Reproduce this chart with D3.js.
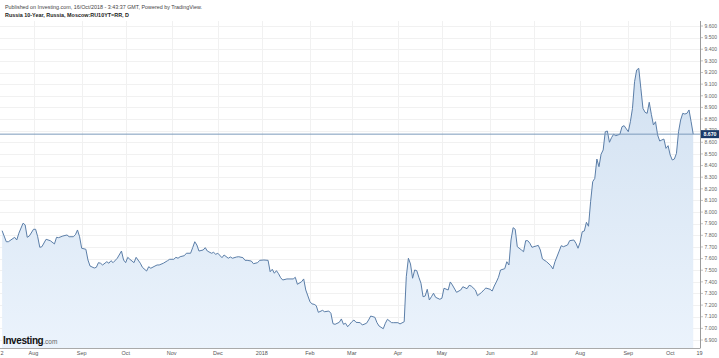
<!DOCTYPE html>
<html><head><meta charset="utf-8">
<script src="https://cdn.jsdelivr.net/npm/d3@7"></script>
<style>html,body{margin:0;padding:0;background:#fff;overflow:hidden}svg{display:block;font-family:"Liberation Sans",Arial,sans-serif}</style>
</head><body>
<script>
const dates = ["2017-07-11","2017-07-13","2017-07-14","2017-07-19","2017-07-20","2017-07-21","2017-07-25","2017-07-26","2017-07-27","2017-07-28",
"2017-08-01","2017-08-02","2017-08-03","2017-08-04","2017-08-07","2017-08-09","2017-08-11","2017-08-15","2017-08-16","2017-08-17",
"2017-08-21","2017-08-23","2017-08-24","2017-08-28","2017-08-29","2017-08-30","2017-08-31","2017-09-01","2017-09-05","2017-09-06",
"2017-09-07","2017-09-11","2017-09-12","2017-09-13","2017-09-14","2017-09-15","2017-09-19","2017-09-20","2017-09-21","2017-09-22",
"2017-09-26","2017-09-28","2017-09-29","2017-10-02","2017-10-03","2017-10-04","2017-10-06","2017-10-09","2017-10-11","2017-10-12",
"2017-10-16","2017-10-17","2017-10-18","2017-10-20","2017-10-23","2017-10-24","2017-10-26","2017-10-30","2017-10-31","2017-11-02",
"2017-11-03","2017-11-06","2017-11-07","2017-11-09","2017-11-10","2017-11-14","2017-11-15","2017-11-16","2017-11-17","2017-11-20",
"2017-11-22","2017-11-23","2017-11-24","2017-11-28","2017-11-29","2017-11-30","2017-12-01","2017-12-05","2017-12-06","2017-12-08",
"2017-12-11","2017-12-12","2017-12-14","2017-12-15","2017-12-19","2017-12-20","2017-12-21","2017-12-25","2017-12-26","2017-12-28",
"2017-12-29","2018-01-02","2018-01-04","2018-01-05","2018-01-08","2018-01-09","2018-01-10","2018-01-11","2018-01-12","2018-01-15",
"2018-01-17","2018-01-18","2018-01-22","2018-01-23","2018-01-24","2018-01-26","2018-01-29","2018-01-30","2018-02-01","2018-02-02",
"2018-02-05","2018-02-06","2018-02-07","2018-02-09","2018-02-12","2018-02-14","2018-02-15","2018-02-16","2018-02-19","2018-02-21",
"2018-02-22","2018-02-23","2018-02-26","2018-02-27","2018-02-28","2018-03-01","2018-03-02","2018-03-05","2018-03-07","2018-03-08",
"2018-03-12","2018-03-13","2018-03-14","2018-03-16","2018-03-19","2018-03-20","2018-03-22","2018-03-23","2018-03-26","2018-03-28",
"2018-03-29","2018-04-02","2018-04-03","2018-04-05","2018-04-06","2018-04-09","2018-04-10","2018-04-11","2018-04-12","2018-04-13",
"2018-04-16","2018-04-17","2018-04-18","2018-04-19","2018-04-20","2018-04-23","2018-04-24","2018-04-25","2018-04-26","2018-04-30",
"2018-05-01","2018-05-02","2018-05-04","2018-05-07","2018-05-08","2018-05-10","2018-05-14","2018-05-15","2018-05-17","2018-05-18",
"2018-05-21","2018-05-23","2018-05-24","2018-05-28","2018-05-29","2018-05-30","2018-06-01","2018-06-04","2018-06-05","2018-06-06",
"2018-06-07","2018-06-08","2018-06-12","2018-06-13","2018-06-14","2018-06-15","2018-06-18","2018-06-19","2018-06-20","2018-06-22",
"2018-06-25","2018-06-26","2018-06-27","2018-06-28","2018-06-29","2018-07-03","2018-07-04","2018-07-05","2018-07-06","2018-07-10",
"2018-07-12","2018-07-13","2018-07-16","2018-07-18","2018-07-19","2018-07-20","2018-07-24","2018-07-25","2018-07-27","2018-07-30",
"2018-07-31","2018-08-01","2018-08-02","2018-08-03","2018-08-06","2018-08-07","2018-08-08","2018-08-09","2018-08-10","2018-08-13",
"2018-08-14","2018-08-15","2018-08-16","2018-08-17","2018-08-20","2018-08-21","2018-08-22","2018-08-23","2018-08-24","2018-08-28",
"2018-08-29","2018-08-30","2018-09-03","2018-09-04","2018-09-05","2018-09-06","2018-09-07","2018-09-10","2018-09-11","2018-09-12",
"2018-09-13","2018-09-14","2018-09-17","2018-09-18","2018-09-19","2018-09-20","2018-09-21","2018-09-24","2018-09-25","2018-09-26",
"2018-09-27","2018-09-28","2018-10-01","2018-10-02","2018-10-03","2018-10-04","2018-10-05","2018-10-08","2018-10-09","2018-10-10",
"2018-10-11","2018-10-12","2018-10-15","2018-10-16"];
const yields = [7.840,7.745,7.745,7.783,7.760,7.818,7.904,7.890,7.783,7.794,
7.852,7.852,7.788,7.697,7.702,7.766,7.754,7.726,7.783,7.780,
7.794,7.803,7.788,7.788,7.805,7.846,7.788,7.689,7.680,7.588,
7.536,7.519,7.525,7.565,7.560,7.545,7.573,7.560,7.582,7.565,
7.603,7.665,7.588,7.565,7.611,7.594,7.565,7.611,7.560,7.525,
7.493,7.530,7.517,7.536,7.545,7.545,7.560,7.582,7.594,7.594,
7.611,7.603,7.616,7.625,7.646,7.646,7.694,7.745,7.717,7.665,
7.674,7.694,7.665,7.646,7.654,7.637,7.646,7.608,7.631,7.603,
7.614,7.603,7.614,7.616,7.608,7.585,7.585,7.579,7.556,7.565,
7.585,7.588,7.585,7.487,7.508,7.474,7.496,7.470,7.436,7.416,
7.425,7.425,7.425,7.439,7.379,7.401,7.425,7.330,7.229,7.210,
7.207,7.195,7.138,7.155,7.143,7.149,7.130,7.040,7.035,7.052,
7.081,7.035,7.044,7.014,7.035,7.057,7.072,7.052,7.049,7.029,
7.044,7.072,7.106,7.095,7.049,7.020,6.997,7.044,7.078,7.049,
7.049,7.049,7.038,7.057,7.444,7.603,7.554,7.431,7.502,7.496,
7.439,7.388,7.272,7.278,7.336,7.244,7.272,7.302,7.267,7.250,
7.259,7.345,7.330,7.399,7.373,7.310,7.330,7.358,7.341,7.370,
7.364,7.330,7.281,7.310,7.330,7.347,7.336,7.321,7.364,7.399,
7.439,7.502,7.513,7.573,7.545,7.760,7.866,7.852,7.702,7.674,
7.659,7.754,7.754,7.732,7.697,7.708,7.714,7.674,7.597,7.573,
7.539,7.511,7.573,7.665,7.711,7.702,7.717,7.754,7.760,7.732,
7.689,7.740,7.831,7.837,7.912,7.878,8.089,8.261,8.290,8.456,
8.390,8.497,8.534,8.691,8.697,8.600,8.640,8.669,8.657,8.669,
8.734,8.743,8.691,8.777,8.892,9.121,9.222,9.236,9.064,8.892,
8.858,8.849,8.944,8.841,8.749,8.777,8.663,8.611,8.620,8.628,
8.548,8.571,8.491,8.448,8.456,8.505,8.691,8.792,8.849,8.843,
8.849,8.878,8.777,8.670];
const tickDates = ["2017-07-11","2017-08-01","2017-09-01","2017-10-01","2017-11-01","2017-12-01","2018-01-01","2018-02-01","2018-03-01","2018-04-01","2018-05-01","2018-06-01","2018-07-01","2018-08-01","2018-09-01","2018-10-01","2018-10-19"];
const tickLabels = ["2","Aug","Sep","Oct","Nov","Dec","2018","Feb","Mar","Apr","May","Jun","Jul","Aug","Sep","Oct","19"];
const domainStart = "2017-07-10";
const domainEnd = "2018-10-19";
const yMin = 6.9, yMax = 9.6, yStep = 0.1;
const lastValue = 8.670;
const headerLine1 = "Published on Investing.com, 16/Oct/2018 - 3:43:37 GMT, Powered by TradingView.";
const headerLine2 = "Russia 10-Year, Russia, Moscow:RU10YT=RR, D";

const W = 719, H = 358;
const plotL = 0, plotR = 699.5, axisX = 700.5, plotTop = 21, axisY = 348;

const parse = d3.timeParse("%Y-%m-%d");
const t0 = parse(domainStart);
const weekday = d3.timeDay.filter(d => d.getDay() > 0 && d.getDay() < 6);
const idx = d => weekday.range(t0, d).length;

const x = d3.scaleLinear().domain([0, idx(parse(domainEnd))]).range([plotL, plotR]);
const y = d3.scaleLinear().domain([yMin, yMax]).range([340, 26]);

const data = dates.map((d, i) => ({i: idx(parse(d)), v: yields[i]}));

const svg = d3.select("body").append("svg").attr("width", W).attr("height", H);
svg.append("rect").attr("width", W).attr("height", H).attr("fill", "#fff");

// header
svg.append("text").attr("x", 5).attr("y", 8.6).attr("font-size", 5.6).attr("fill", "#444")
  .attr("textLength", 197).attr("lengthAdjust", "spacingAndGlyphs").text(headerLine1);
svg.append("text").attr("x", 5).attr("y", 17.4).attr("font-size", 5.8).attr("font-weight", "bold").attr("fill", "#222")
  .attr("textLength", 124).attr("lengthAdjust", "spacingAndGlyphs").text(headerLine2);

const yTicks = d3.range(Math.round((yMax - yMin) / yStep) + 1).map(k => +(yMin + k * yStep).toFixed(3));

// grid
const grid = svg.append("g");
grid.selectAll("line.h").data(yTicks).join("line")
  .attr("x1", plotL).attr("x2", axisX).attr("y1", d => Math.round(y(d)) + 0.5).attr("y2", d => Math.round(y(d)) + 0.5)
  .attr("stroke", "#f1f1f1").attr("stroke-width", 1);
const tks = tickDates.map((d, i) => ({x: x(idx(parse(d))), label: tickLabels[i]}));
grid.selectAll("line.v").data(tks.slice(1, -1)).join("line")
  .attr("x1", d => Math.round(d.x) + 0.5).attr("x2", d => Math.round(d.x) + 0.5).attr("y1", plotTop).attr("y2", axisY)
  .attr("stroke", "#f1f1f1").attr("stroke-width", 1);

// gradient
const defs = svg.append("defs");
const grad = defs.append("linearGradient").attr("id", "fillg").attr("gradientUnits", "userSpaceOnUse")
  .attr("x1", 0).attr("x2", 0).attr("y1", y(d3.max(yields))).attr("y2", axisY);
grad.append("stop").attr("offset", 0).attr("stop-color", "#d2e1f1");
grad.append("stop").attr("offset", 1).attr("stop-color", "#ebf3fc");

const area = d3.area().x(d => x(d.i)).y0(axisY).y1(d => y(d.v));
const line = d3.line().x(d => x(d.i)).y(d => y(d.v));
svg.append("path").datum(data).attr("d", area).attr("fill", "url(#fillg)");
svg.append("path").datum(data).attr("d", line).attr("fill", "none").attr("stroke", "#5b7ea8").attr("stroke-width", 1);

// last price line
svg.append("line").attr("x1", plotL).attr("x2", axisX).attr("y1", y(lastValue)).attr("y2", y(lastValue))
  .attr("stroke", "#7c9abb").attr("stroke-width", 1);

// right axis
svg.append("line").attr("x1", axisX).attr("x2", axisX).attr("y1", plotTop).attr("y2", axisY).attr("stroke", "#9a9a9a");
const ya = svg.append("g");
ya.selectAll("line").data(yTicks).join("line")
  .attr("x1", axisX).attr("x2", axisX + 2.5).attr("y1", d => y(d)).attr("y2", d => y(d)).attr("stroke", "#9a9a9a").attr("stroke-width", 0.6);
ya.selectAll("text").data(yTicks).join("text")
  .attr("x", axisX + 4).attr("y", d => y(d)).attr("dy", "0.35em").attr("font-size", 5).attr("fill", "#666")
  .text(d => d3.format(".3f")(d));

// last value label
svg.append("rect").attr("x", axisX + 0.5).attr("y", y(lastValue) - 4).attr("width", 18).attr("height", 8).attr("fill", "#1b3b6a");
svg.append("text").attr("x", axisX + 3).attr("y", y(lastValue)).attr("dy", "0.35em").attr("font-size", 5.2)
  .attr("font-weight", "bold").attr("fill", "#fff").text(d3.format(".3f")(lastValue));

// bottom axis
svg.append("line").attr("x1", plotL).attr("x2", axisX).attr("y1", axisY + 0.5).attr("y2", axisY + 0.5).attr("stroke", "#aaa");
svg.append("g").selectAll("text").data(tks).join("text")
  .attr("x", d => d.x).attr("y", 355).attr("text-anchor", "middle").attr("font-size", 5.5).attr("fill", "#555")
  .text(d => d.label);

// logo
const logo = svg.append("text").attr("x", 3).attr("y", 343.5).attr("fill", "#111");
logo.append("tspan").attr("font-size", 10).attr("font-weight", "bold").attr("letter-spacing", -0.4).text("Investing");
logo.append("tspan").attr("font-size", 6.5).attr("fill", "#666").text(".com");
</script>
</body></html>
